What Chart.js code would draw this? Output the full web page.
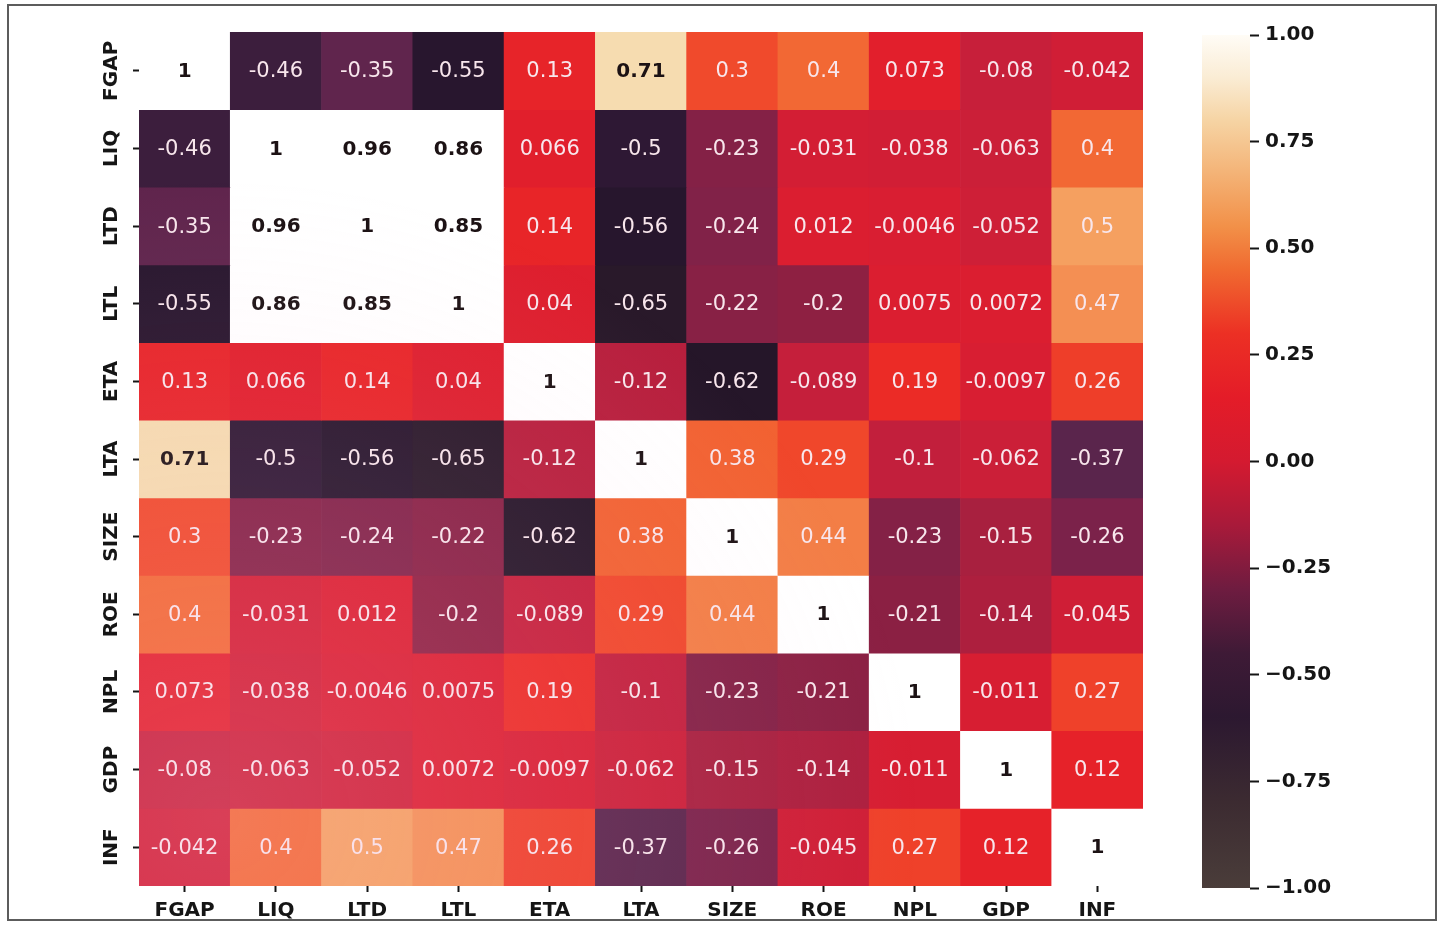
<!DOCTYPE html>
<html>
<head>
<meta charset="utf-8">
<script src="https://cdn.jsdelivr.net/npm/chart.js@4.4.1/dist/chart.umd.min.js"></script>
<style>
  html, body { margin: 0; padding: 0; background: #ffffff; }
  body { width: 1447px; height: 928px; position: relative; overflow: hidden; }
  #frame { position: absolute; left: 7px; top: 4px; width: 1430px; height: 917px;
           border: 2px solid #5c5c5c; box-sizing: border-box; }
  #heat { position: absolute; left: 0; top: 0; }
  #cbar { position: absolute; left: 1150px; top: 0; }
  /* soft pale wash over the lower-left part of the matrix */
  #wash { position: absolute; left: 139px; top: 32px; width: 1004px; height: 854px; pointer-events: none;
          background: radial-gradient(ellipse 70% 75% at 8% 92%, rgba(255,196,222,0.20), rgba(255,196,222,0) 100%); }
</style>
</head>
<body>
<div id="frame"></div>
<canvas id="heat" width="1153" height="928"></canvas>
<canvas id="cbar" width="297" height="928"></canvas>
<div id="wash"></div>
<script>
// Variables of the correlation matrix (row order = column order)
const variables = ['FGAP', 'LIQ', 'LTD', 'LTL', 'ETA', 'LTA', 'SIZE', 'ROE', 'NPL', 'GDP', 'INF'];

// Pairwise correlation coefficients, one array per row
const rowFGAP = [1, -0.46, -0.35, -0.55, 0.13, 0.71, 0.3, 0.4, 0.073, -0.08, -0.042];
const rowLIQ  = [-0.46, 1, 0.96, 0.86, 0.066, -0.5, -0.23, -0.031, -0.038, -0.063, 0.4];
const rowLTD  = [-0.35, 0.96, 1, 0.85, 0.14, -0.56, -0.24, 0.012, -0.0046, -0.052, 0.5];
const rowLTL  = [-0.55, 0.86, 0.85, 1, 0.04, -0.65, -0.22, -0.2, 0.0075, 0.0072, 0.47];
const rowETA  = [0.13, 0.066, 0.14, 0.04, 1, -0.12, -0.62, -0.089, 0.19, -0.0097, 0.26];
const rowLTA  = [0.71, -0.5, -0.56, -0.65, -0.12, 1, 0.38, 0.29, -0.1, -0.062, -0.37];
const rowSIZE = [0.3, -0.23, -0.24, -0.22, -0.62, 0.38, 1, 0.44, -0.23, -0.15, -0.26];
const rowROE  = [0.4, -0.031, 0.012, -0.2, -0.089, 0.29, 0.44, 1, -0.21, -0.14, -0.045];
const rowNPL  = [0.073, -0.038, -0.0046, 0.0075, 0.19, -0.1, -0.23, -0.21, 1, -0.011, 0.27];
const rowGDP  = [-0.08, -0.063, -0.052, 0.0072, -0.0097, -0.062, -0.15, -0.14, -0.011, 1, 0.12];
const rowINF  = [-0.042, 0.4, 0.5, 0.47, 0.26, -0.37, -0.26, -0.045, 0.27, 0.12, 1];

const corrRows = [rowFGAP, rowLIQ, rowLTD, rowLTL, rowETA, rowLTA, rowSIZE, rowROE, rowNPL, rowGDP, rowINF];

// Colour bar tick values
const colorbarTicks = [-1, -0.75, -0.5, -0.25, 0, 0.25, 0.5, 0.75, 1];

// Dark-to-light colour ramp for the cells (value, colour)
const rampStops = [
  [-1.0, '#4a3b38'], [-0.8, '#3a2930'], [-0.6, '#231428'], [-0.5, '#2e1834'],
  [-0.4, '#52264a'], [-0.3, '#6e2450'], [-0.2, '#8e2042'], [-0.1, '#c21f3c'],
  [0.0, '#da1e31'], [0.1, '#e5202a'], [0.2, '#ec2c25'], [0.3, '#f04a2c'],
  [0.4, '#f26834'], [0.5, '#f5a060'], [0.6, '#f5c088'], [0.71, '#f6dcb0'],
  [0.8, '#fdf4e6'], [0.84, '#ffffff'], [1.0, '#ffffff']
];

// Same ramp as printed on the colour bar, with a softer light end
const barStops = [
  [-1.0, '#4a3d3a'], [-0.8, '#3c2b31'], [-0.6, '#2c1830'], [-0.45, '#3e1a36'],
  [-0.3, '#6e1c40'], [-0.15, '#a81a3a'], [0.0, '#d41a30'], [0.15, '#e41c28'],
  [0.3, '#ec3024'], [0.45, '#f06a30'], [0.55, '#f29048'], [0.68, '#f4b478'],
  [0.8, '#f6d4a4'], [0.9, '#faecd4'], [1.0, '#fffcf6']
];

function hexToRgb(h) {
  const n = parseInt(h.slice(1), 16);
  return [(n >> 16) & 255, (n >> 8) & 255, n & 255];
}
function colorFor(v) {
  for (let i = 0; i < rampStops.length - 1; i++) {
    const [v0, c0] = rampStops[i];
    const [v1, c1] = rampStops[i + 1];
    if (v <= v1) {
      const t = Math.max(0, Math.min(1, (v - v0) / (v1 - v0)));
      const a = hexToRgb(c0), b = hexToRgb(c1);
      const m = a.map((x, k) => Math.round(x + (b[k] - x) * t));
      return `rgb(${m[0]},${m[1]},${m[2]})`;
    }
  }
  return rampStops[rampStops.length - 1][1];
}

// Two significant digits, trailing zeros dropped
function fmtCell(v) {
  return String(parseFloat(v.toPrecision(2)));
}
function fmtBar(v) {
  const s = Math.abs(v).toFixed(2);
  return v < 0 ? '\u2212' + s : s;
}

const FONT = '"DejaVu Sans", "Liberation Sans", sans-serif';

// Heatmap: every row is a dataset of floating bars spanning [r, r + 1]
const datasets = corrRows.map((row, r) => ({
  label: variables[r],
  values: row,
  data: row.map(() => [r, r + 1]),
  backgroundColor: row.map(colorFor),
  borderWidth: 0,
  barPercentage: 1,
  categoryPercentage: 1,
  grouped: false
}));

// Writes the coefficient in the middle of each cell
const cellLabels = {
  id: 'cellLabels',
  afterDatasetsDraw(chart) {
    const ctx = chart.ctx;
    ctx.save();
    ctx.textAlign = 'center';
    ctx.textBaseline = 'middle';
    chart.data.datasets.forEach((ds, r) => {
      chart.getDatasetMeta(r).data.forEach((bar, c) => {
        const v = ds.values[c];
        const dark = v > 0.6;
        ctx.font = (dark ? 'bold 20px ' : '21px ') + FONT;
        ctx.fillStyle = dark ? '#1c1214' : '#f8e6ec';
        ctx.fillText(fmtCell(v), bar.x, (bar.y + bar.base) / 2 + 1);
      });
    });
    ctx.restore();
  }
};

new Chart(document.getElementById('heat'), {
  type: 'bar',
  data: { labels: variables, datasets },
  plugins: [cellLabels],
  options: {
    responsive: false,
    animation: false,
    devicePixelRatio: 1,
    layout: { padding: { left: 0, top: 32, right: 10, bottom: 0 } },
    plugins: { legend: { display: false }, tooltip: { enabled: false } },
    scales: {
      x: {
        type: 'category',
        offset: true,
        border: { display: false },
        grid: { offset: false, drawOnChartArea: false, drawTicks: true,
                tickLength: 6, tickWidth: 2, tickColor: '#151515' },
        ticks: { font: { family: FONT, size: 20, weight: 'bold' }, color: '#151515',
                 padding: 7, maxRotation: 0, autoSkip: false },
        afterFit: s => { s.height = 42; }
      },
      y: {
        type: 'linear',
        min: 0,
        max: variables.length,
        reverse: true,
        border: { display: false },
        afterBuildTicks: s => { s.ticks = variables.map((_, i) => ({ value: i + 0.5 })); },
        grid: { drawOnChartArea: false, drawTicks: true,
                tickLength: 6, tickWidth: 2, tickColor: '#151515' },
        ticks: {
          autoSkip: false,
          minRotation: 90, maxRotation: 90,
          crossAlign: 'center',
          padding: -9,
          font: { family: FONT, size: 20, weight: 'bold' }, color: '#151515',
          callback: (val, i) => variables[i]
        },
        afterFit: s => { s.width = 139; }
      }
    }
  }
});

// Colour bar: one floating bar from -1 to 1 filled with the ramp
new Chart(document.getElementById('cbar'), {
  type: 'bar',
  data: {
    labels: [''],
    datasets: [{
      data: [[-1, 1]],
      backgroundColor: (context) => {
        const chart = context.chart;
        if (!chart.chartArea) return '#d81e31';
        const ys = chart.scales.y;
        const g = chart.ctx.createLinearGradient(0, ys.getPixelForValue(-1), 0, ys.getPixelForValue(1));
        barStops.forEach(([v, col]) => g.addColorStop((v + 1) / 2, col));
        return g;
      },
      borderWidth: 0,
      barPercentage: 1,
      categoryPercentage: 1
    }]
  },
  options: {
    responsive: false,
    animation: false,
    devicePixelRatio: 1,
    layout: { padding: { left: 52, top: 35, right: 0, bottom: 40 } },
    plugins: { legend: { display: false }, tooltip: { enabled: false } },
    scales: {
      x: { display: false },
      y: {
        position: 'right',
        min: -1,
        max: 1,
        border: { display: false },
        afterBuildTicks: s => { s.ticks = colorbarTicks.map(v => ({ value: v })); },
        grid: { drawOnChartArea: false, drawTicks: true,
                tickLength: 9, tickWidth: 2, tickColor: '#151515' },
        ticks: { autoSkip: false, padding: 6,
                 font: { family: FONT, size: 20, weight: 'bold' }, color: '#151515',
                 callback: v => fmtBar(v) },
        afterFit: s => { s.width = 197; }
      }
    }
  }
});
</script>
</body>
</html>
